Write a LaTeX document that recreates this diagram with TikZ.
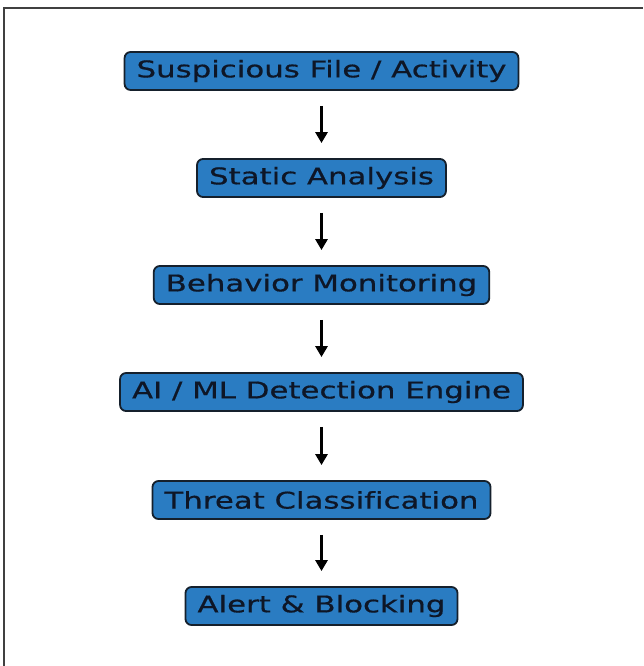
\documentclass[tikz,border=0pt]{standalone}
\usepackage{fontspec}
\setmainfont{DejaVu Sans}
\newfontfamily\widefont{DejaVu Sans}[FakeStretch=1.34,FakeBold=0.6,Ligatures=NoCommon]
\usetikzlibrary{arrows.meta}
\definecolor{boxblue}{HTML}{2A7CC2}
\definecolor{boxedge}{HTML}{15202C}
\definecolor{txt}{HTML}{0E1626}
\tikzset{
  stepbox/.style={draw=boxedge, line width=1.8pt, fill=boxblue, rounded corners=6pt,
    minimum height=38pt, inner xsep=12pt, inner ysep=0pt, text=txt,
    font=\widefont\fontsize{23}{26}\selectfont},
  flow/.style={-{Triangle[length=11pt,width=12pt]}, line width=2.8pt, black,
    shorten >=15pt, shorten <=15pt}
}
\begin{document}
\begin{tikzpicture}[x=1pt,y=-1pt]
\useasboundingbox (0,0) rectangle (643,666);
\fill[white] (0,0) rectangle (643,666);
\draw[line width=1.5pt, black!75] (4,666) -- (4,8) -- (643,8);
\node[stepbox] (a) at (321.5,71) {Suspicious File / Activity};
\node[stepbox] (b) at (321.5,178) {Static Analysis};
\node[stepbox] (c) at (321.5,285) {Behavior Monitoring};
\node[stepbox] (d) at (321.5,392) {AI / ML Detection Engine};
\node[stepbox] (e) at (321.5,500) {Threat Classification};
\node[stepbox] (f) at (321.5,606) {Alert \& Blocking};
\draw[flow] (a) -- (b);
\draw[flow] (b) -- (c);
\draw[flow] (c) -- (d);
\draw[flow] (d) -- (e);
\draw[flow] (e) -- (f);
\end{tikzpicture}
\end{document}
